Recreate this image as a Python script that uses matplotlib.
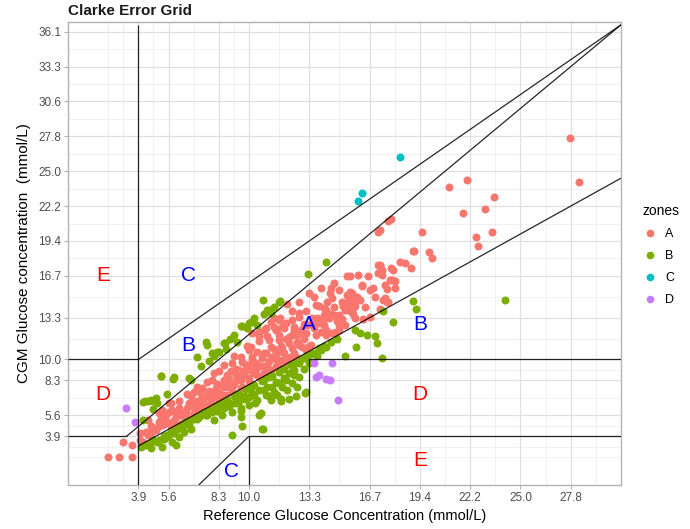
import matplotlib
matplotlib.use("Agg")
import matplotlib.pyplot as plt
from matplotlib.lines import Line2D

plt.rcParams['font.family'] = ['Liberation Sans', 'DejaVu Sans']

# ---- data (mg/dL) ----
a_ref = [40, 51, 64, 55, 64, 72, 75, 72, 80, 78, 83, 87, 90, 95, 93, 100, 107, 102, 108, 112, 105, 115, 118, 125, 125, 132, 135, 122, 125, 132, 138, 143,
         83, 87, 93, 102, 107, 115, 107, 125, 117, 133, 125, 142, 150, 133, 143, 153, 163, 153, 163, 173, 158, 170, 180, 190, 167, 177, 187, 197, 207,
         173, 183, 193, 203, 213, 222, 180, 188, 202, 213, 223, 233, 242, 190, 198, 210, 217, 228, 237, 247, 257, 267, 270, 197, 205, 210, 217, 225,
         223, 230, 243, 250, 257, 270, 300, 237, 247, 255, 273, 278, 283, 263, 240, 262, 277, 282, 292, 303, 313, 317, 277, 288, 298, 308, 320, 325,
         317, 310, 323, 330, 335, 343, 308, 318, 103, 102, 90, 80,
         183, 195, 207, 215, 223, 230, 182, 190, 200, 210, 220, 230, 237, 172, 183, 197, 208, 217, 227, 163, 177, 187, 198, 210, 150, 162, 173, 185,
         195, 143, 155, 168, 180, 133, 147, 160, 172, 133, 145, 157, 130, 140, 133,
         261, 279, 287, 277, 275, 280, 285, 250, 257, 255, 260, 272, 265, 243, 230, 223, 235, 218, 211, 213, 202, 207, 225, 250, 257, 263, 270, 310,
         293, 308,
         499, 508, 397, 379, 424, 415, 393, 422, 406, 408, 352, 321, 310, 344, 359, 362, 321, 341, 312, 312, 322, 315, 325, 315, 318, 280, 282, 284,
         280, 283, 280, 292, 310,
         85, 92, 97, 98, 110, 112, 118, 120, 128, 128, 135, 137, 140, 142, 148, 150, 155, 157, 160, 165, 167, 170, 172, 175, 178, 182, 185, 188,
         192, 195, 200, 202, 205, 207, 212, 215, 218, 220, 225, 228, 232, 235, 238, 240, 245, 248, 252, 255, 258, 262, 265, 268, 272, 275, 285,
         290, 295, 300, 305, 265, 270, 245, 252, 230, 205, 190, 178, 165, 155, 145, 138, 128, 118, 110, 100, 90]
a_cgm = [40, 40, 40, 62, 57, 65, 62, 74, 72, 76, 84, 79, 91, 88, 108, 117, 103, 84, 84, 88, 93, 103, 96, 103, 117, 112, 108, 127, 134, 132, 127, 117,
         74, 81, 86, 88, 81, 91, 98, 102, 103, 108, 112, 117, 122, 122, 132, 129, 133, 144, 141, 141, 158, 155, 153, 155, 167, 165, 167, 170, 170,
         177, 179, 182, 184, 179, 184, 194, 191, 198, 196, 196, 198, 201, 213, 213, 215, 210, 215, 218, 215, 215, 220, 230, 225, 227, 237, 232, 227,
         249, 241, 234, 237, 239, 244, 241, 249, 258, 254, 256, 263, 254, 268, 275, 282, 273, 276, 287, 282, 266, 263, 300, 301, 300, 304, 294, 292,
         281, 316, 308, 320, 319, 336, 363, 378, 108, 117, 103, 93,
         218, 222, 222, 225, 215, 218, 198, 206, 208, 208, 203, 201, 194, 184, 184, 189, 189, 184, 184, 175, 172, 175, 172, 172, 163, 163, 160, 160,
         160, 151, 151, 151, 148, 139, 139, 141, 139, 127, 127, 129, 115, 115, 108,
         275, 268, 270, 260, 251, 249, 256, 256, 251, 244, 239, 238, 244, 239, 246, 236, 231, 260, 239, 227, 234, 222, 222, 232, 222, 218, 222, 252,
         238, 316,
         498, 434, 438, 427, 413, 396, 390, 363, 356, 343, 363, 381, 365, 336, 334, 326, 311, 311, 308, 301, 294, 287, 282, 268, 263, 277, 268, 260,
         252, 245, 300, 285, 314,
         80, 95, 100, 90, 110, 100, 110, 118, 120, 110, 125, 115, 135, 125, 145, 132, 140, 148, 152, 145, 158, 165, 150, 158, 172, 165, 175, 158,
         170, 190, 178, 165, 195, 180, 200, 190, 175, 212, 190, 205, 222, 210, 230, 200, 225, 240, 220, 230, 262, 245, 255, 235, 262, 230, 240,
         265, 255, 280, 270, 290, 280, 270, 282, 262, 240, 220, 200, 185, 172, 160, 148, 140, 130, 120, 105, 85]

b_ref = [161, 156, 157, 148, 145, 138, 128, 92, 105, 120, 194, 198, 188, 182, 173, 137, 143, 150, 155, 172, 180, 257, 239, 211, 200, 202, 210,
         77, 83, 75, 80, 85, 87, 85, 75, 92, 104, 122,
         235, 230, 225, 220, 215, 207, 198, 190, 183, 175, 167, 160, 152, 143, 137, 213, 205, 197, 188, 180, 172, 163, 153, 145, 218, 228, 237, 212,
         220, 227, 202, 192, 172, 173, 240, 223, 230, 107, 163, 194, 190, 172, 208, 73, 82, 90, 97, 83, 93, 103, 110, 115, 122, 100, 105, 112, 118,
         125, 130, 245, 250, 255, 262, 268, 275, 286, 307, 312, 236, 212, 193, 257, 252, 248, 285, 290, 297, 305, 435, 343, 346, 313, 323,
         78, 85, 88, 95, 98, 102, 108, 113, 117, 120, 127, 132, 135, 140, 147, 150, 155, 158, 165, 168, 170, 177, 182, 185, 193, 195, 200, 203,
         210, 215, 222, 226, 232, 238, 242, 148, 155, 160, 166, 170, 176, 185, 195, 203, 210, 217, 225, 235, 120, 113, 105, 95, 128, 138, 186,
         200, 180,
         165, 178, 185, 195, 205, 168, 140, 132, 98, 88]
b_cgm = [210, 204, 195, 191, 185, 201, 183, 156, 155, 153, 266, 251, 230, 234, 228, 205, 189, 191, 203, 228, 233, 320, 302, 264, 251, 246, 263,
         120, 122, 119, 120, 121, 125, 109, 93, 157, 152, 150,
         182, 175, 165, 160, 153, 148, 141, 136, 132, 127, 122, 117, 112, 105, 100, 141, 134, 129, 122, 115, 110, 105, 100, 93, 136, 141, 134, 124,
         124, 127, 122, 103, 98, 84, 175, 146, 155, 57, 71, 80, 100, 106, 129, 55, 60, 65, 69, 53, 55, 62, 69, 76, 81, 72, 78, 84, 88,
         95, 98, 190, 196, 200, 205, 210, 185, 198, 203, 182, 132, 120, 80, 198, 193, 185, 222, 218, 215, 213, 265, 264, 253, 249, 234,
         58, 64, 62, 70, 72, 76, 80, 85, 90, 92, 96, 101, 104, 108, 113, 115, 119, 122, 127, 130, 131, 137, 140, 143, 149, 150, 155, 157,
         162, 166, 172, 175, 180, 185, 188, 106, 110, 113, 118, 121, 124, 129, 136, 140, 146, 150, 158, 166, 88, 82, 74, 66, 94, 100, 118,
         128, 126,
         215, 225, 240, 245, 255, 205, 178, 170, 130, 118]

c_ref = [330, 292, 288]
c_cgm = [471, 419, 408]

d_ref = [245, 263, 247, 250, 257, 261, 269, 58, 67]
d_cgm = [175, 175, 155, 158, 152, 150, 122, 110, 90]

zone_names = ['A', 'B', 'C', 'D']
zone_colors = ['#F8766D', '#7CAE00', '#00BFC4', '#C77CFF']

x_breaks = [70, 100, 150, 180, 240, 300, 350, 400, 450, 500]
x_labels = ['3.9', '5.6', '8.3', '10.0', '13.3', '16.7', '19.4', '22.2', '25.0', '27.8']
y_breaks = [70, 100, 150, 180, 240, 300, 350, 400, 450, 500, 550, 600, 650]
y_labels = ['3.9', '5.6', '8.3', '10.0', '13.3', '16.7', '19.4', '22.2', '25.0', '27.8', '30.6', '33.3', '36.1']
x_minor = [40, 55, 85, 125, 165, 210, 270, 325, 375, 425, 475, 525, 550]
y_minor = [40, 55, 85, 125, 165, 210, 270, 325, 375, 425, 475, 525, 575, 625]

max_x = 550
max_y = 660

# Clarke grid border segments
seg_x1 = [0, 70, 70, 0, 58.333, 70, 130, 180, 180, 240, 240]
seg_y1 = [180, 180, 0, 70, 70, 56, 0, 0, 70, 70, 180]
seg_x2 = [70, max_y - 110, 70, 58.333, max_x, max_x, 180, 180, max_x, 240, max_x]
seg_y2 = [180, max_y, max_y, 70, max_x * 1.2, max_x * 0.8, 70, 70, 70, 180, 180]

lab_x = [240, 120, 350, 120, 163, 35, 350, 35, 350]
lab_y = [230, 200, 230, 300, 20, 130, 130, 300, 35]
lab_t = ['A', 'B', 'B', 'C', 'C', 'D', 'D', 'E', 'E']
lab_c = ['blue', 'blue', 'blue', 'blue', 'blue', 'red', 'red', 'red', 'red']

fig = plt.figure(figsize=(6.9, 5.29), dpi=100)
ax = fig.add_axes([0.0986, 0.0832, 0.8014, 0.8752])
ax.set_xlim(0, max_x)
ax.set_ylim(0, 664)

# grid
for v in x_minor:
    ax.axvline(v, color='#EBEBEB', lw=0.5, zorder=0)
for v in y_minor:
    ax.axhline(v, color='#EBEBEB', lw=0.5, zorder=0)
for v in x_breaks:
    ax.axvline(v, color='#E0E0E0', lw=0.9, zorder=0)
for v in y_breaks:
    ax.axhline(v, color='#E0E0E0', lw=0.9, zorder=0)

series = [(a_ref, a_cgm), (b_ref, b_cgm), (c_ref, c_cgm), (d_ref, d_cgm)]
for (xs, ys), name, col in zip(series, zone_names, zone_colors):
    ax.scatter(xs, ys, s=33, color=col, linewidths=0, zorder=2)

for x1, y1, x2, y2 in zip(seg_x1, seg_y1, seg_x2, seg_y2):
    ax.plot([x1, x2], [y1, y2], color='black', lw=0.9, alpha=0.85, zorder=3,
            solid_capstyle='butt')

for x, y, t, c in zip(lab_x, lab_y, lab_t, lab_c):
    ax.text(x, y, t, color=c, fontsize=15, ha='center', va='center', zorder=4)

ax.set_xticks(x_breaks)
ax.set_xticklabels(x_labels)
ax.set_yticks(y_breaks)
ax.set_yticklabels(y_labels)
ax.tick_params(axis='both', length=3, width=0.8, color='#B3B3B3',
               labelsize=8.5, labelcolor='#4D4D4D', pad=2)
for sp in ax.spines.values():
    sp.set_color('#B3B3B3')
    sp.set_linewidth(1.0)

ax.set_xlabel('Reference Glucose Concentration (mmol/L)', fontsize=10.5, color='black', labelpad=4)
ax.set_ylabel('CGM Glucose concentration  (mmol/L)', fontsize=11, color='black', labelpad=5)
ax.set_title('Clarke Error Grid', fontsize=11, fontweight='bold', loc='left', color='#1a1a1a', pad=5)

handles = [Line2D([0], [0], marker='o', linestyle='', markersize=5.5, markerfacecolor=c,
                  markeredgewidth=0, color=c) for c in zone_colors]
leg = fig.legend(handles, zone_names, title='zones', loc='upper left',
                 bbox_to_anchor=(0.915, 0.635), frameon=False, fontsize=9,
                 title_fontsize=10, handletextpad=0.6, labelspacing=0.8,
                 handlelength=1.2)
leg._legend_box.align = 'left'

fig.savefig('out.png', dpi=100)
